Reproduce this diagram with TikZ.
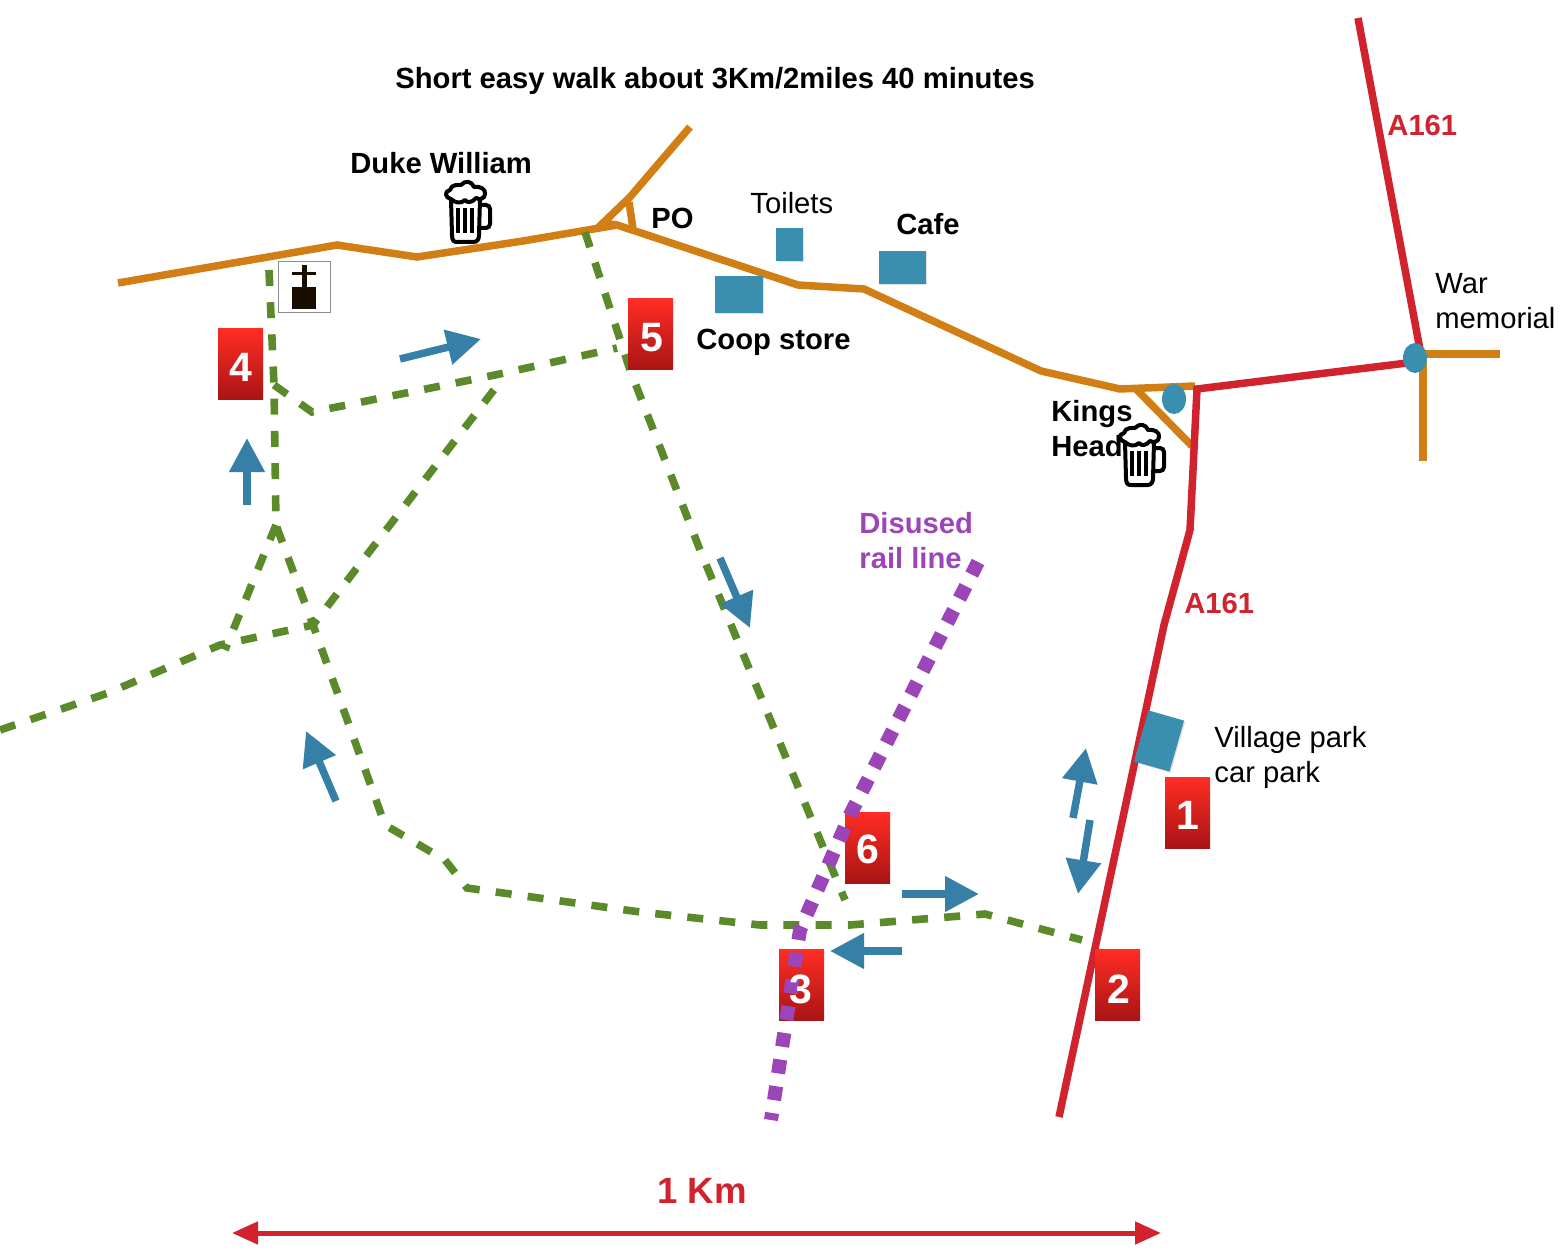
\documentclass[tikz,border=0pt]{standalone}
\usepackage{fontspec}
\setmainfont{Liberation Sans}
\usetikzlibrary{arrows.meta,shadows,calc}
\definecolor{roadO}{HTML}{D17F14}
\definecolor{roadR}{HTML}{D0232E}
\definecolor{pathG}{HTML}{5B8A2B}
\definecolor{railP}{HTML}{9B45B8}
\definecolor{arrowB}{HTML}{367FA6}
\definecolor{bldg}{HTML}{3A8FAE}
\definecolor{boxT}{HTML}{FF2D24}
\definecolor{boxB}{HTML}{A81414}
\tikzset{
  x=0.5pt,y=-0.5pt,
  orange road/.style={draw=roadO,line width=3.75pt,line join=miter},
  red road/.style={draw=roadR,line width=3.75pt},
  walk/.style={draw=pathG,line width=3.8pt,dash pattern=on 8pt off 8.1pt},
  rail/.style={draw=railP,line width=7pt,dash pattern=on 7pt off 6.5pt},
  dirarrow/.style={draw=arrowB,line width=3.75pt,-{Triangle[length=17pt,width=17pt]}},
  numbox/.style={inner sep=0pt,minimum width=22.5pt,minimum height=35.5pt,top color=boxT,bottom color=boxB},
  numtext/.style={inner sep=0pt,text=white,font=\fontsize{20.5}{24}\selectfont\bfseries},
  lab/.style={inner sep=0pt,anchor=base west,font=\fontsize{14.6}{17.5}\selectfont,align=left},
  blab/.style={lab,font=\fontsize{14.6}{17.5}\selectfont\bfseries},
  building/.style={fill=bldg,draw=none,inner sep=0pt,drop shadow={shadow xshift=0.6pt,shadow yshift=-0.6pt,opacity=.25}},
  beer/.pic={
    \draw[line width=2pt,line join=round] (7,18) -- (8,54) .. controls (8,60) and (10,61) .. (13,61) -- (29,61) .. controls (33,61) and (35,59) .. (35,54) -- (36,18);
    \draw[line width=2pt,rounded corners=2pt] (36,24) -- (46,24) -- (46,47) -- (35,47);
    \draw[line width=2pt] (14,27) -- (14,52) (21,27) -- (21,52) (28,27) -- (28,52);
    \draw[line width=2pt,fill=white,line join=round] (7,18) .. controls (1,17) and (0,10) .. (6,9) .. controls (7,3) and (15,4) .. (17,4) .. controls (21,-1) and (28,0) .. (30,6) .. controls (36,5) and (42,8) .. (41,13) .. controls (41,18) and (35,19) .. (32,17) .. controls (28,22) and (23,22) .. (21,19) .. controls (17,23) and (11,22) .. (7,18) -- cycle;
  }
}
\begin{document}
\begin{tikzpicture}
\useasboundingbox (0,0) rectangle (1568,1251);
% roads
\draw[orange road] (118,283) -- (337,245) -- (417,257) -- (523,241) -- (617,225) -- (798,285) -- (864,289) -- (1041,371) -- (1120,389) -- (1195,386);
\draw[orange road] (1135,388) -- (1192,446);
\draw[orange road] (690,127) -- (630,197) -- (603,223) -- (617,225);
\draw[orange road] (629,202) -- (633,229);
\draw[orange road] (1420,354) -- (1500,354);
\draw[orange road] (1423,358) -- (1423,461);
\draw[red road] (1358,18) -- (1421,355);
\draw[red road] (1415,362) -- (1197,389) -- (1190,530) -- (1164,625) -- (1059,1117);
% walks
\draw[walk] (269,270) -- (274,385) -- (276,525) -- (313,625) -- (385,825) -- (445,860) -- (467,888) -- (640,912) -- (760,925) -- (850,925) -- (985,914) -- (1082,940);
\draw[walk] (274,385) -- (312,412) -- (495,375) -- (617,348);
\draw[walk] (585,232) -- (630,370) -- (700,550) -- (845,900);
\draw[walk] (0,730) -- (108,693) -- (220,645) -- (313,625) -- (500,382);
\draw[walk] (276,525) -- (225,650);
% buildings
\node[building,minimum width=13.5pt,minimum height=16.5pt] (toilets) at (789.5,244.5) {};
\node[building,minimum width=23.5pt,minimum height=16.5pt] (cafe) at (902.5,267.5) {};
\node[building,minimum width=24pt,minimum height=18.5pt] (coop) at (739,294.5) {};
\node[building,minimum width=18.5pt,minimum height=26.5pt,rotate=-16] (carpark) at (1159,741) {};
\fill[bldg] (1174,399) ellipse [x radius=12,y radius=15];
\fill[bldg] (1415,358) ellipse [x radius=12,y radius=15];
% numbered boxes
\node[numbox] (n1) at (1187.5,812.5) {};
\node[numbox] (n2) at (1117.5,985) {};
\node[numbox] (n3) at (801.5,985) {};
\node[numbox] (n4) at (240.5,364.5) {};
\node[numbox] (n5) at (650.5,334.5) {};
\node[numbox] (n6) at (867.5,847.5) {};
% rail
\draw[rail] (978,562) -- (850,815) -- (800,930) -- (771,1120);
\node[numtext] (n1t) at (1187.5,815) {1};
\node[numtext] (n2t) at (1118.5,989) {2};
\node[numtext] (n3t) at (801,989) {3};
\node[numtext] (n4t) at (241,367) {4};
\node[numtext] (n5t) at (651.5,338) {5};
\node[numtext] (n6t) at (868,849) {6};
% arrows
\draw[dirarrow] (400,359) -- (481,339);
\draw[dirarrow] (247,505) -- (247,438);
\draw[dirarrow] (720,558) -- (750,628);
\draw[dirarrow] (336,801) -- (306,731);
\draw[dirarrow] (1073,818) -- (1086,748);
\draw[dirarrow] (1090,820) -- (1078,894);
\draw[dirarrow] (902,894) -- (979,894);
\draw[dirarrow] (902,951) -- (830,951);
% scale
\draw[draw=roadR,line width=2.5pt,{Triangle[length=13pt,width=11pt]}-{Triangle[length=13pt,width=11pt]}] (232,1233) -- (1161,1233);
\node[inner sep=0pt,anchor=base,text=roadR,font=\fontsize{18.3}{20}\selectfont\bfseries] (km) at (702,1203) {1 Km};
% labels
\node[blab] (title) at (395,89) {Short easy walk about 3Km/2miles 40 minutes};
\node[blab] (duke) at (350,174) {Duke William};
\node[blab] (po) at (651,229) {PO};
\node[lab] (toil) at (750,214) {Toilets};
\node[blab] (caf) at (896,235) {Cafe};
\node[blab] (coopl) at (696,350) {Coop store};
\node[blab] (kings) at (1051,457) {Kings\\Head};
\node[lab] (war) at (1435,329) {War\\memorial};
\node[lab] (vil) at (1214,782) {Village park\\car park};
\node[blab,text=railP] (dis) at (859,568) {Disused\\rail line};
\node[blab,text=roadR] (a1) at (1387,136) {A161};
\node[blab,text=roadR] (a2) at (1184,613) {A161};
% pub icons
\pic at (444,181) {beer};
\pic at (1118,424) {beer};
% church icon
\node[draw=black!45,line width=.5pt,minimum width=26pt,minimum height=25.5pt,inner sep=0pt,fill=white] (church) at (304,287.5) {};
\fill[black!90!orange] (292,287) rectangle (316,309);
\fill[black!90!orange] (302,265) rectangle (307,287);
\fill[black!90!orange] (292,272) rectangle (316,275);
\end{tikzpicture}
\end{document}
